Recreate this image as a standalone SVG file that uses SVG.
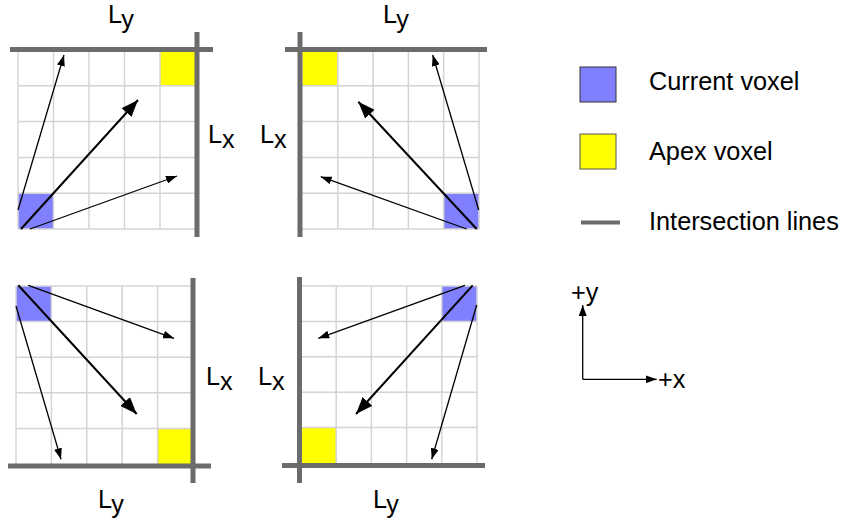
<svg xmlns="http://www.w3.org/2000/svg" width="844" height="524" viewBox="0 0 844 524">
<defs>
<marker id="ah" viewBox="0 0 11 8" refX="11" refY="4" markerWidth="11" markerHeight="8" markerUnits="userSpaceOnUse" orient="auto"><path d="M0,0 L11,4 L0,8 z" fill="#000"/></marker>
<marker id="ahb" viewBox="0 0 17 13" refX="17" refY="6.5" markerWidth="17" markerHeight="13" markerUnits="userSpaceOnUse" orient="auto"><path d="M0,0 L17,6.5 L0,13 z" fill="#000"/></marker>
</defs>
<style>
.grid line{stroke:#d4d4d4;stroke-width:1.5}
.bar{stroke:#6b6b6b;stroke-width:5}
.cur{fill:#8080ff}
.apex{fill:#ffff00}
.thin{stroke:#000;stroke-width:1.3;fill:none;marker-end:url(#ah)}
.thick{stroke:#000;stroke-width:2;fill:none;marker-end:url(#ahb)}
text{font-family:"Liberation Sans",Arial,sans-serif;font-size:25.3px;fill:#000}
</style>
<rect width="844" height="524" fill="#fff"/>

<g id="panel1">
<rect class="cur" x="18" y="193.2" width="35.5" height="35.8"/>
<rect class="apex" x="160" y="50" width="35.5" height="35.8"/>
<g class="grid">
<line x1="18" y1="50" x2="18" y2="229"/><line x1="53.5" y1="50" x2="53.5" y2="229"/><line x1="89" y1="50" x2="89" y2="229"/><line x1="124.5" y1="50" x2="124.5" y2="229"/><line x1="160" y1="50" x2="160" y2="229"/>
<line x1="18" y1="85.8" x2="195" y2="85.8"/><line x1="18" y1="121.6" x2="195" y2="121.6"/><line x1="18" y1="157.4" x2="195" y2="157.4"/><line x1="18" y1="193.2" x2="195" y2="193.2"/><line x1="18" y1="229" x2="195" y2="229"/>
</g>
<line class="bar" x1="10" y1="49.5" x2="213" y2="49.5"/>
<line class="bar" x1="197" y1="32" x2="197" y2="237"/>
<text x="108" y="23">L<tspan dy="5">y</tspan></text>
<text x="208" y="143">L<tspan dy="5">x</tspan></text>
</g>

<g id="panel2">
<rect class="apex" x="302.5" y="50" width="35.3" height="35.8"/>
<rect class="cur" x="443.7" y="193.2" width="35.3" height="35.8"/>
<g class="grid">
<line x1="337.8" y1="50" x2="337.8" y2="229"/><line x1="373.1" y1="50" x2="373.1" y2="229"/><line x1="408.4" y1="50" x2="408.4" y2="229"/><line x1="443.7" y1="50" x2="443.7" y2="229"/><line x1="479" y1="50" x2="479" y2="229"/>
<line x1="302" y1="85.8" x2="479" y2="85.8"/><line x1="302" y1="121.6" x2="479" y2="121.6"/><line x1="302" y1="157.4" x2="479" y2="157.4"/><line x1="302" y1="193.2" x2="479" y2="193.2"/><line x1="302" y1="229" x2="479" y2="229"/>
</g>
<line class="bar" x1="285" y1="49.5" x2="487" y2="49.5"/>
<line class="bar" x1="300" y1="32" x2="300" y2="237"/>
<text x="383" y="23">L<tspan dy="5">y</tspan></text>
<text x="260" y="143">L<tspan dy="5">x</tspan></text>
</g>

<g id="panel3">
<rect class="cur" x="16" y="286" width="35.4" height="35.6"/>
<rect class="apex" x="157.6" y="428.4" width="35.4" height="35.6"/>
<g class="grid">
<line x1="16" y1="286" x2="16" y2="464"/><line x1="51.4" y1="286" x2="51.4" y2="464"/><line x1="86.8" y1="286" x2="86.8" y2="464"/><line x1="122.2" y1="286" x2="122.2" y2="464"/><line x1="157.6" y1="286" x2="157.6" y2="464"/>
<line x1="16" y1="286" x2="193" y2="286"/><line x1="16" y1="321.6" x2="193" y2="321.6"/><line x1="16" y1="357.2" x2="193" y2="357.2"/><line x1="16" y1="392.8" x2="193" y2="392.8"/><line x1="16" y1="428.4" x2="193" y2="428.4"/>
</g>
<line class="bar" x1="8" y1="466" x2="211" y2="466"/>
<line class="bar" x1="193" y1="278" x2="193" y2="483"/>
<text x="206" y="385">L<tspan dy="5">x</tspan></text>
<text x="98" y="508">L<tspan dy="5">y</tspan></text>
</g>

<g id="panel4">
<rect class="cur" x="441.8" y="286" width="35.2" height="35.4"/>
<rect class="apex" x="301" y="427.6" width="35.2" height="35.4"/>
<g class="grid">
<line x1="336.2" y1="286" x2="336.2" y2="463"/><line x1="371.4" y1="286" x2="371.4" y2="463"/><line x1="406.6" y1="286" x2="406.6" y2="463"/><line x1="441.8" y1="286" x2="441.8" y2="463"/><line x1="477" y1="286" x2="477" y2="463"/>
<line x1="301" y1="286" x2="477" y2="286"/><line x1="301" y1="321.4" x2="477" y2="321.4"/><line x1="301" y1="356.8" x2="477" y2="356.8"/><line x1="301" y1="392.2" x2="477" y2="392.2"/><line x1="301" y1="427.6" x2="477" y2="427.6"/>
</g>
<line class="bar" x1="299.5" y1="277" x2="299.5" y2="483"/>
<line class="bar" x1="282" y1="465.5" x2="485" y2="465.5"/>
<text x="258" y="385">L<tspan dy="5">x</tspan></text>
<text x="373" y="508">L<tspan dy="5">y</tspan></text>
</g>

<g id="connectors">
<line class="thin" x1="18" y1="210" x2="64" y2="55"/>
<line class="thick" x1="21" y1="229" x2="138" y2="100"/>
<line class="thin" x1="30" y1="229" x2="177" y2="176"/>
<line class="thin" x1="478.7" y1="210" x2="432.7" y2="55"/>
<line class="thick" x1="476.7" y1="229" x2="358.3" y2="101.7"/>
<line class="thin" x1="466.7" y1="229" x2="320.7" y2="176.7"/>
<line class="thin" x1="28.3" y1="285.3" x2="174" y2="338.3"/>
<line class="thick" x1="18.3" y1="285.3" x2="136.7" y2="414"/>
<line class="thin" x1="16" y1="306" x2="61" y2="459.3"/>
<line class="thin" x1="465" y1="285.3" x2="318.3" y2="338.3"/>
<line class="thick" x1="472.7" y1="285.3" x2="356" y2="414"/>
<line class="thin" x1="476.7" y1="305" x2="431.7" y2="459.3"/>
<line x1="582.7" y1="379.3" x2="582.7" y2="305" stroke="#000" stroke-width="1.3" marker-end="url(#ah)"/>
<line x1="582.7" y1="379.3" x2="656.7" y2="379.3" stroke="#000" stroke-width="1.3" marker-end="url(#ah)"/>
</g>

<g id="axes-labels">
<text x="571" y="301">+y</text>
<text x="658" y="388">+x</text>
</g>

<g id="legend">
<rect x="580" y="67" width="36" height="35" fill="#8080ff" stroke="#333" stroke-width="1"/>
<text x="649" y="90">Current voxel</text>
<rect x="580" y="134" width="36" height="35" fill="#ffff00" stroke="#555" stroke-width="1"/>
<text x="649" y="160">Apex voxel</text>
<line x1="581" y1="222.5" x2="620" y2="222.5" stroke="#6b6b6b" stroke-width="4"/>
<text x="649" y="230">Intersection lines</text>
</g>
</svg>
